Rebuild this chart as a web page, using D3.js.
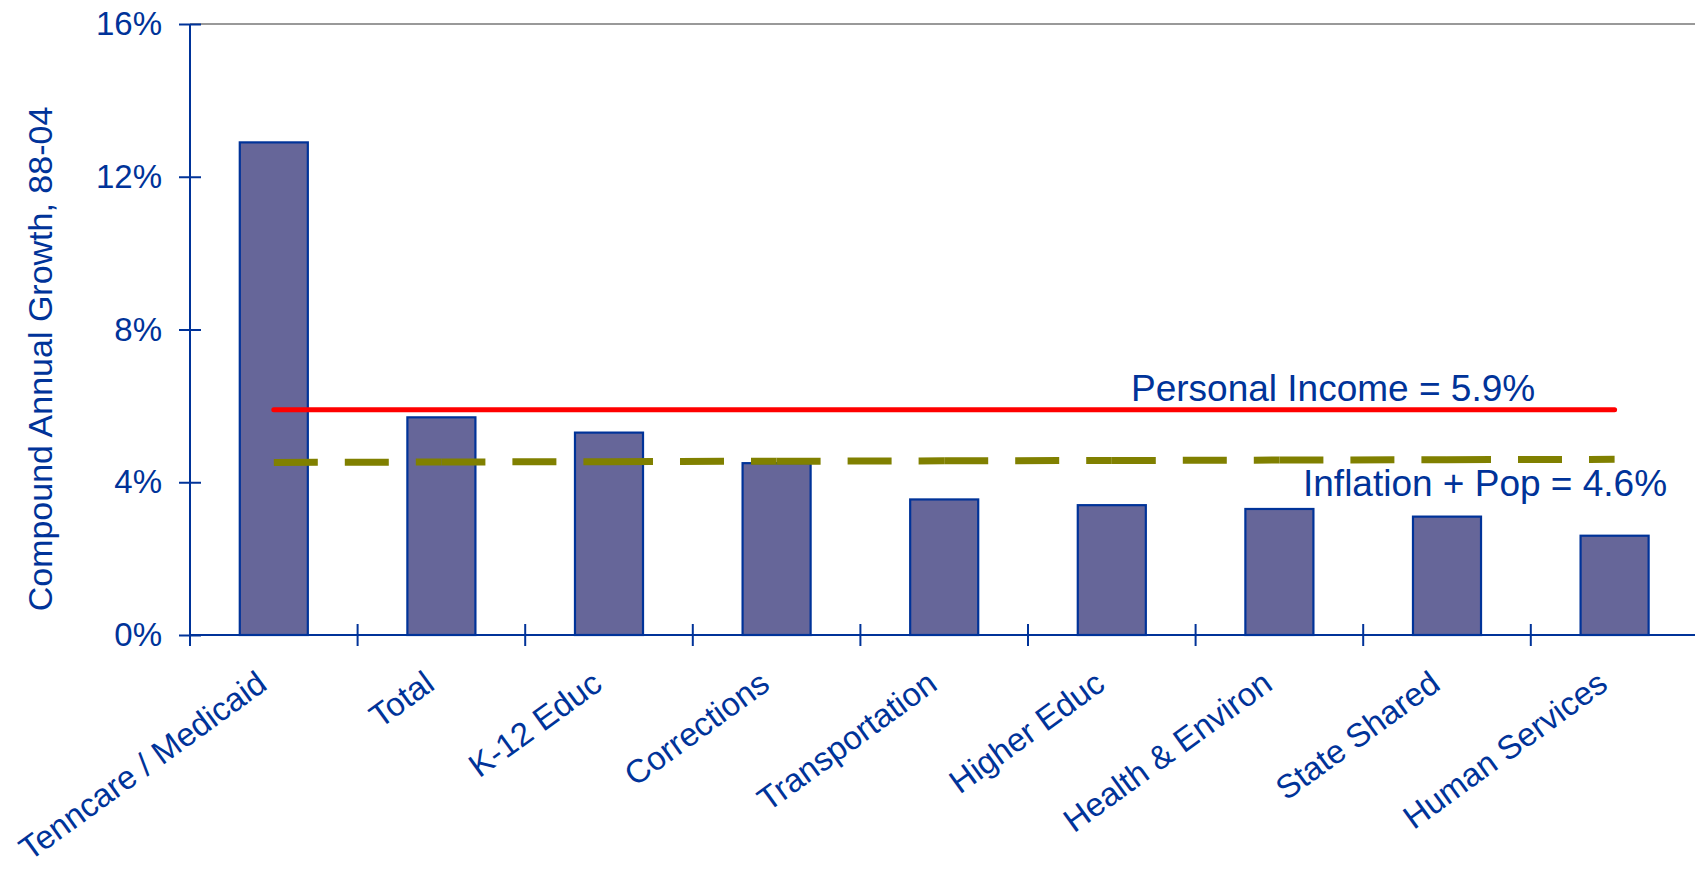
<!DOCTYPE html>
<html>
<head>
<meta charset="utf-8">
<script src="https://cdn.jsdelivr.net/npm/d3@7"></script>
<style>
  html, body { margin: 0; padding: 0; background: #fff; }
  svg { display: block; }
  text { font-family: Arial, "Liberation Sans", sans-serif; fill: #003399; }
</style>
</head>
<body>
<svg id="chart" width="1695" height="869"></svg>
<script>
const categories = ["Tenncare / Medicaid", "Total", "K-12 Educ", "Corrections", "Transportation",
                    "Higher Educ", "Health & Environ", "State Shared", "Human Services"];
const growth = [12.9, 5.7, 5.3, 4.5, 3.55, 3.4, 3.3, 3.1, 2.6];
const personalIncome = [5.9, 5.9, 5.9, 5.9, 5.9, 5.9, 5.9, 5.9, 5.9];
const inflationPop = [4.52, 4.53, 4.54, 4.55, 4.56, 4.57, 4.58, 4.59, 4.6];
const yTicks = [0, 4, 8, 12, 16];
const yTickLabels = ["0%", "4%", "8%", "12%", "16%"];
const yTitle = "Compound Annual Growth, 88-04";
const incomeLabel = "Personal Income = 5.9%";
const inflationLabel = "Inflation + Pop = 4.6%";

const BLUE = "#003399";
const svg = d3.select("#chart");

const plotLeft = 190, plotRight = 1698.4, plotTop = 24, plotBottom = 635;
const x = d3.scaleBand().domain(categories).range([plotLeft, plotRight]).paddingInner(0.594).paddingOuter(0.297);
const y = d3.scaleLinear().domain([0, 16]).range([plotBottom, plotTop]);
const cx = c => x(c) + x.bandwidth() / 2;

// top gray border line
svg.append("line").attr("x1", plotLeft).attr("x2", 1695).attr("y1", y(16)).attr("y2", y(16))
  .attr("stroke", "#999999").attr("stroke-width", 2);

// bars
svg.append("g").selectAll("rect").data(categories).join("rect")
  .attr("x", d => x(d)).attr("width", x.bandwidth())
  .attr("y", (d, i) => y(growth[i])).attr("height", (d, i) => y(0) - y(growth[i]))
  .attr("fill", "#666699").attr("stroke", BLUE).attr("stroke-width", 2.2);

// y axis
const yAxis = d3.axisLeft(y).tickValues(yTicks).tickFormat((d, i) => yTickLabels[i])
  .tickSize(11).tickPadding(17);
const gy = svg.append("g").attr("transform", `translate(${plotLeft},0)`).call(yAxis);
gy.select(".domain").remove();
gy.selectAll(".tick line").attr("x1", -11).attr("x2", 11).attr("stroke", BLUE).attr("stroke-width", 2);
gy.selectAll(".tick text").style("font-size", "33px").attr("fill", BLUE)
  .style("font-family", "Arial, 'Liberation Sans', sans-serif");
svg.append("line").attr("x1", plotLeft).attr("x2", plotLeft).attr("y1", y(16)).attr("y2", y(0))
  .attr("stroke", BLUE).attr("stroke-width", 2);

// x axis
svg.append("line").attr("x1", plotLeft).attr("x2", 1695).attr("y1", y(0)).attr("y2", y(0))
  .attr("stroke", BLUE).attr("stroke-width", 2);
svg.append("g").selectAll("line").data(categories).join("line")
  .attr("x1", d => cx(d) - x.step() / 2).attr("x2", d => cx(d) - x.step() / 2)
  .attr("y1", y(0) - 11).attr("y2", y(0) + 11)
  .attr("stroke", BLUE).attr("stroke-width", 2);

// category labels
svg.append("g").selectAll("text").data(categories).join("text")
  .attr("transform", d => `translate(${cx(d) - 5},688) rotate(-36)`)
  .attr("text-anchor", "end")
  .style("font-size", "33px")
  .text(d => d);

// y title
svg.append("text")
  .attr("transform", `translate(52,359) rotate(-90)`)
  .attr("text-anchor", "middle")
  .style("font-size", "34px")
  .text(yTitle);

// inflation + pop dashed line (segment-wise dashes)
for (let i = 0; i < categories.length - 1; i++) {
  svg.append("line")
    .attr("x1", cx(categories[i])).attr("x2", cx(categories[i + 1]))
    .attr("y1", y(inflationPop[i])).attr("y2", y(inflationPop[i + 1]))
    .attr("stroke", "#808000").attr("stroke-width", 7)
    .attr("stroke-dasharray", "44,27");
}

// personal income line
const line = d3.line().x((d, i) => cx(categories[i])).y(d => y(d));
svg.append("path").datum(personalIncome).attr("d", line)
  .attr("fill", "none").attr("stroke", "#FF0000").attr("stroke-width", 5)
  .attr("stroke-linecap", "round");

// annotations
svg.append("text").attr("x", 1131).attr("y", 401).style("font-size", "37px").text(incomeLabel);
svg.append("text").attr("x", 1303).attr("y", 496).style("font-size", "37px").text(inflationLabel);
</script>
</body>
</html>
